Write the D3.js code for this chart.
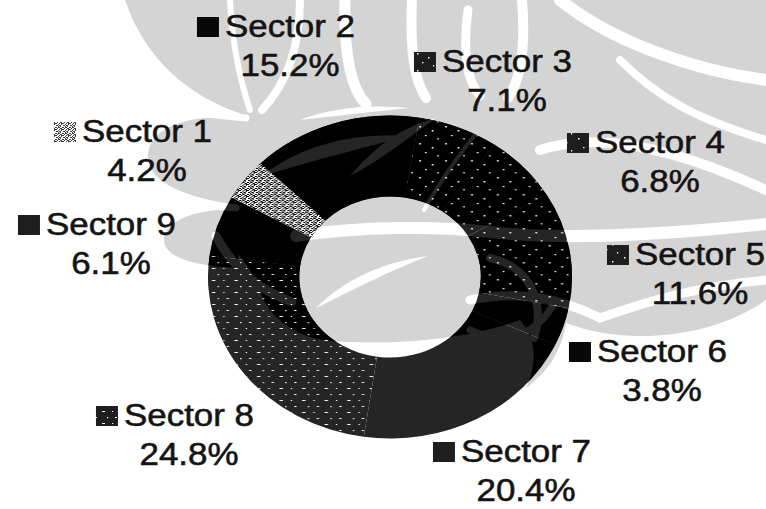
<!DOCTYPE html>
<html>
<head>
<meta charset="utf-8">
<script src="https://cdn.jsdelivr.net/npm/d3@7"></script>
<style>
  html, body { margin: 0; padding: 0; background: #fff; }
  svg { display: block; }
  text { font-family: "Liberation Sans", Arial, sans-serif; fill: #141414; stroke: #141414; stroke-width: 0.55px; }
</style>
</head>
<body>
<div id="chart"></div>
<script>
// Share of each sector, in percent
const sectors = ["Sector 1", "Sector 2", "Sector 3", "Sector 4", "Sector 5",
                 "Sector 6", "Sector 7", "Sector 8", "Sector 9"];
const shares  = [4.2, 15.2, 7.1, 6.8, 11.6, 3.8, 20.4, 24.8, 6.1];

// Label placement: centre of the name text and baseline of its first line (px)
const labelAt = [[147, 142], [290, 37], [507, 72], [660, 153], [700, 265],
                 [662, 362], [526, 462], [189, 426], [111, 235]];

// Fill texture laid over each slice (null = plain)
const texture = ["spk", null, "dots", "dots", "dots", null, null, "rows", null];

const W = 766, H = 509;
const cx = 390, cy = 277;
const sx = 1.127;               // horizontal stretch of the whole chart
const outerR = 161.5, innerR = 80.5;
const startDeg = -60.5;

const svg = d3.select("#chart").append("svg")
  .attr("width", W).attr("height", H);

const defs = svg.append("defs");

// ---- textures ----
function pattern(id, w, h, dots) {
  const p = defs.append("pattern").attr("id", id)
    .attr("patternUnits", "userSpaceOnUse").attr("width", w).attr("height", h);
  dots.forEach(([x, y, dw, dh]) =>
    p.append("rect").attr("x", x).attr("y", y).attr("width", dw).attr("height", dh).attr("fill", "#fff"));
}
pattern("spk", 7, 6, [
  [0,0,2,1],[3,0,1,1],[5,0,2,1],[1,1,1,1],[4,1,2,1],[0,2,1,1],[2,2,2,1],[6,2,1,1],
  [1,3,2,1],[4,3,1,1],[0,4,2,1],[3,4,2,1],[6,4,1,1],[2,5,1,1],[5,5,2,1]]);
pattern("dots", 23, 17, [[3,2,1.5,1.5],[14,6,1.5,1.5],[8,11,1.5,1.2],[19,14,1.2,1.5]]);
pattern("rows", 20, 12, [[2,3,3,1],[12,3,1.2,1],[7,9,1.2,1.2],[15,9,2,1]]);

// ---- ornamental background motif, kept as a mask (white = motif) ----
const mask = defs.append("mask").attr("id", "motif")
  .attr("maskUnits", "userSpaceOnUse").attr("x", 0).attr("y", 0)
  .attr("width", W).attr("height", H);
mask.append("rect").attr("width", W).attr("height", H).attr("fill", "#000");

const motifShapes = [
  // main body
  "M125,0 L766,0 L766,300 C735,322 690,336 640,336 C612,336 588,331 566,323 " +
  "C562,350 548,372 526,388 C538,362 536,338 520,320 C470,338 400,346 330,341 " +
  "C298,338 272,320 262,296 C256,278 246,262 236,252 L242,114 C190,97 145,60 125,0 Z",
  // lobes on the left
  "M246,120 C200,112 150,124 148,154 C146,188 200,200 246,206 Z",
  "M238,210 C194,208 164,222 164,240 C164,258 196,266 238,268 Z"
];
motifShapes.forEach(d => mask.append("path").attr("d", d).attr("fill", "#fff"));

// tapered light streaks cut from the motif
const motifCuts = [
  "M262,176 C300,146 352,132 410,136 C352,150 302,164 262,176 Z",
  "M350,176 C376,146 400,128 436,118 C408,138 384,158 350,176 Z",
  "M316,308 C344,280 382,262 428,256 C392,270 352,290 316,308 Z",
  "M300,120 C330,108 370,104 410,108 C370,112 335,116 300,120 Z"
];
motifCuts.forEach(d => mask.append("path").attr("d", d).attr("fill", "#000"));

const motifGaps = [
  ["M345,0 C344,50 350,88 366,104", 11],
  ["M412,0 C410,50 414,80 426,98", 10],
  ["M468,10 C462,55 468,82 480,96", 9],
  ["M522,0 C526,48 520,80 508,98", 10],
  ["M300,0 C300,40 290,80 262,110", 8],
  ["M230,0 C232,40 240,80 250,110", 6],
  ["M560,0 C610,40 690,70 766,80", 12],
  ["M620,60 C660,100 700,120 766,140", 8],
  ["M540,150 C600,130 680,150 766,190", 10],
  ["M474,136 C455,160 438,185 424,210", 4],
  ["M296,236 C360,226 440,226 490,232 C560,240 650,236 766,224", 12],
  ["M216,236 C230,262 252,288 292,302", 9],
  ["M470,300 C520,290 560,298 600,318 C650,300 700,286 766,280", 9],
  ["M490,258 C528,266 546,300 534,338", 8],
  ["M470,330 C500,345 535,340 556,300", 7],
  ["M150,108 C190,112 220,116 246,118", 7],
  ["M160,206 C190,204 215,206 236,208", 7]
];
motifGaps.forEach(([d, w]) => mask.append("path").attr("d", d)
  .attr("fill", "none").attr("stroke", "#000").attr("stroke-width", w).attr("stroke-linecap", "round"));

// ---- background ----
svg.append("rect").attr("width", W).attr("height", H).attr("fill", "#fff");
svg.append("rect").attr("width", W).attr("height", H).attr("fill", "#d4d4d4")
  .attr("mask", "url(#motif)");

// ---- donut ----
const pie = d3.pie().sort(null).value(d => d)
  .startAngle(startDeg * Math.PI / 180)
  .endAngle(startDeg * Math.PI / 180 + 2 * Math.PI);
const arcs = pie(shares);
const arc = d3.arc().innerRadius(innerR).outerRadius(outerR);
const frame = `translate(${cx},${cy}) scale(${sx},1)`;

// base tone
svg.append("g").attr("transform", frame)
  .selectAll("path").data(arcs).join("path")
  .attr("d", arc)
  .attr("fill", (d, i) => i === 0 ? "#050505" : "#252525");

// motif shows through the slices as a darker tone
svg.append("g").attr("mask", "url(#motif)")
  .append("g").attr("transform", frame)
  .selectAll("path").data(arcs).join("path")
  .attr("d", arc).attr("fill", "#000");

// textures
svg.append("g").attr("transform", frame)
  .selectAll("path").data(arcs.filter((d, i) => texture[i])).join("path")
  .attr("d", arc)
  .attr("fill", d => `url(#${texture[d.index]})`);

// ---- labels ----
const fmt = d3.format(".1f");
const fontSize = 31, lineGap = 39;
const markerW = 22, markerH = 20;

sectors.forEach((name, i) => {
  const [x, y] = labelAt[i];
  const g = svg.append("g");
  const t1 = g.append("text")
    .attr("transform", `translate(${x},${y}) scale(${sx},1)`)
    .attr("text-anchor", "middle").attr("font-size", fontSize)
    .text(name);
  g.append("text")
    .attr("transform", `translate(${x},${y + lineGap}) scale(${sx},1)`)
    .attr("text-anchor", "middle").attr("font-size", fontSize)
    .text(fmt(shares[i]) + "%");
  const tw = t1.node().getComputedTextLength() * sx;
  const mx = x - tw / 2 - 6 - markerW;
  const my = y - markerH;
  g.append("rect").attr("x", mx).attr("y", my)
    .attr("width", markerW).attr("height", markerH)
    .attr("fill", i === 0 ? "#3a3a3a" : (i === 1 || i === 5 ? "#080808" : "#1e1e1e"));
  if (texture[i]) {
    g.append("rect").attr("x", mx).attr("y", my)
      .attr("width", markerW).attr("height", markerH)
      .attr("fill", `url(#${texture[i]})`);
  }
});
</script>
</body>
</html>
